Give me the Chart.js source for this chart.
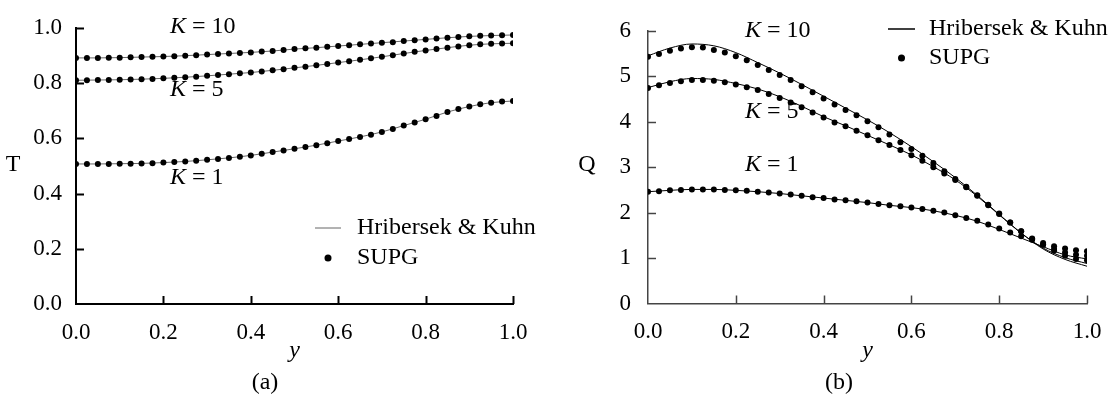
<!DOCTYPE html>
<html>
<head>
<meta charset="utf-8">
<script src="https://cdn.jsdelivr.net/npm/chart.js@4.4.0/dist/chart.umd.min.js"></script>
<style>
  body { margin: 0; background: #fff; }
  #wrap { position: relative; width: 1119px; height: 395px; background: #fff; }
  canvas { position: absolute; top: 0; }
  #chartA { left: 0; }
  #chartB { left: 560px; }
</style>
</head>
<body>
<div id="wrap">
  <canvas id="chartA" width="560" height="395"></canvas>
  <canvas id="chartB" width="559" height="395"></canvas>
</div>
<script>
// positions along y (horizontal axis)
const yDots = [0, 0.025, 0.05, 0.075, 0.1, 0.125, 0.15, 0.175, 0.2, 0.225, 0.25, 0.275, 0.3, 0.325, 0.35, 0.375, 0.4, 0.425, 0.45, 0.475, 0.5,
  0.525, 0.55, 0.575, 0.6, 0.625, 0.65, 0.675, 0.7, 0.725, 0.75, 0.775, 0.8, 0.825, 0.85, 0.875, 0.9, 0.925, 0.95, 0.975, 1.0];
const yLine = [0, 0.05, 0.1, 0.15, 0.2, 0.25, 0.3, 0.35, 0.4, 0.45, 0.5, 0.55, 0.6, 0.65, 0.7, 0.75, 0.8, 0.85, 0.9, 0.95, 1.0];

const xTicks = [0, 0.2, 0.4, 0.6, 0.8, 1.0];
const tTicks = [0, 0.2, 0.4, 0.6, 0.8, 1.0];
const qTicks = [0, 1, 2, 3, 4, 5, 6];
const kLabels = ['10', '5', '1'];

// (a) temperature T, SUPG dots
const tSupgK10 = [.891, .891, .891, .892, .892, .893, .894, .895, .896, .897, .899, .901, .903, .905, .907, .909, .911, .914, .916, .920, .923,
  .926, .928, .931, .934, .937, .940, .943, .946, .948, .952, .955, .958, .961, .964, .967, .969, .971, .972, .973, .974];
const tSupgK5 = [.810, .810, .811, .811, .812, .813, .814, .815, .817, .819, .821, .823, .826, .829, .832, .835, .838, .842, .846, .850, .855,
  .859, .864, .869, .874, .879, .884, .890, .895, .901, .907, .913, .918, .923, .928, .932, .937, .940, .942, .943, .944];
const tSupgK1 = [.507, .507, .507, .507, .508, .508, .509, .510, .512, .514, .516, .519, .522, .525, .529, .533, .538, .544, .550, .556, .562,
  .568, .575, .582, .590, .597, .605, .613, .623, .634, .646, .657, .669, .681, .695, .706, .715, .723, .729, .733, .735];
// (a) Hribersek & Kuhn
const tRefK10 = [.891, .891, .892, .894, .896, .899, .903, .907, .911, .916, .923, .928, .934, .940, .946, .952, .958, .964, .969, .972, .974];
const tRefK5 = [.810, .811, .812, .814, .817, .821, .826, .832, .838, .846, .855, .864, .874, .884, .895, .907, .918, .928, .937, .942, .944];
const tRefK1 = [.507, .507, .508, .509, .512, .516, .522, .529, .538, .550, .562, .575, .590, .605, .623, .646, .669, .695, .715, .729, .735];

// (b) heat flux Q, SUPG dots
const qSupgK10 = [5.43, 5.49, 5.56, 5.61, 5.64, 5.63, 5.58, 5.52, 5.44, 5.35, 5.25, 5.14, 5.03, 4.92, 4.78, 4.65, 4.51, 4.38, 4.26, 4.14, 4.01,
  3.88, 3.72, 3.55, 3.40, 3.25, 3.09, 2.91, 2.74, 2.57, 2.38, 2.17, 1.98, 1.78, 1.59, 1.42, 1.29, 1.16, 1.05, 0.98, 0.95];
const qSupgK5 = [4.74, 4.80, 4.85, 4.89, 4.92, 4.92, 4.90, 4.87, 4.82, 4.76, 4.70, 4.61, 4.52, 4.42, 4.32, 4.20, 4.09, 3.98, 3.90, 3.80, 3.70,
  3.59, 3.49, 3.38, 3.26, 3.14, 3.00, 2.86, 2.72, 2.56, 2.37, 2.16, 1.97, 1.78, 1.59, 1.43, 1.30, 1.20, 1.12, 1.07, 1.05];
const qSupgK1 = [2.46, 2.47, 2.49, 2.50, 2.51, 2.51, 2.51, 2.50, 2.49, 2.48, 2.46, 2.44, 2.42, 2.40, 2.37, 2.34, 2.32, 2.29, 2.27, 2.25, 2.22,
  2.19, 2.16, 2.14, 2.11, 2.08, 2.04, 2.00, 1.94, 1.88, 1.82, 1.74, 1.65, 1.56, 1.48, 1.40, 1.33, 1.26, 1.21, 1.17, 1.15];
// (b) Hribersek & Kuhn
const qRefK10 = [5.45, 5.62, 5.71, 5.67, 5.52, 5.30, 5.07, 4.82, 4.56, 4.30, 4.04, 3.76, 3.45, 3.12, 2.77, 2.38, 1.96, 1.55, 1.20, 0.97, 0.82];
const qRefK5 = [4.75, 4.88, 4.95, 4.93, 4.84, 4.72, 4.55, 4.34, 4.11, 3.91, 3.70, 3.49, 3.27, 3.01, 2.72, 2.36, 1.95, 1.55, 1.22, 1.01, 0.88];
const qRefK1 = [2.46, 2.49, 2.51, 2.51, 2.49, 2.46, 2.42, 2.37, 2.32, 2.27, 2.22, 2.16, 2.11, 2.04, 1.94, 1.81, 1.63, 1.44, 1.25, 1.07, 0.98];

const FONT = "'Liberation Serif', 'Times New Roman', serif";
const TXT = 24;   // labels and legend
const TICK = 23;  // tick labels
const pts = (xs, vs) => vs.map((v, i) => ({ x: xs[i], y: v }));

function lineSet(vals, color) {
  return {
    data: pts(yLine, vals), showLine: true, pointRadius: 0, borderColor: color,
    borderWidth: 1, cubicInterpolationMode: 'monotone', order: 2
  };
}
function dotSet(vals, r) {
  return {
    data: pts(yDots, vals), showLine: false, pointRadius: r, pointHoverRadius: r,
    backgroundColor: '#000', borderWidth: 0, order: 1
  };
}

// inward ticks, labels, legend drawn on top
function decoPlugin(d) {
  return {
    id: 'deco',
    afterDraw(chart) {
      const c = chart.ctx, a = chart.chartArea, xs = chart.scales.x, ys = chart.scales.y;
      c.save();
      c.strokeStyle = d.axisColor;
      c.lineWidth = d.axisWidth;
      xTicks.slice(1).forEach(v => {
        const p = Math.round(xs.getPixelForValue(v)) + 0.5;
        c.beginPath(); c.moveTo(p, a.bottom); c.lineTo(p, a.bottom - 8); c.stroke();
      });
      d.yTicks.slice(1).forEach(v => {
        const p = Math.round(ys.getPixelForValue(v)) + 0.5;
        c.beginPath(); c.moveTo(a.left, p); c.lineTo(a.left + 8, p); c.stroke();
      });
      c.fillStyle = '#000';
      c.textBaseline = 'middle';
      c.textAlign = 'center';
      c.font = TXT + 'px ' + FONT;
      c.fillText(d.yTitle, d.yTitlePos[0], d.yTitlePos[1]);
      c.fillText(d.panel, d.panelPos[0], d.panelPos[1]);
      // K labels
      c.textAlign = 'left';
      kLabels.forEach((k, i) => {
        const [x, y] = d.kPos[i];
        c.font = 'italic ' + TXT + 'px ' + FONT;
        c.fillText('K', x, y);
        const w = c.measureText('K').width;
        c.font = TXT + 'px ' + FONT;
        c.fillText(' = ' + k, x + w, y);
      });
      // legend
      const L = d.legend;
      c.strokeStyle = d.lineColor;
      c.lineWidth = L.lw;
      c.beginPath(); c.moveTo(L.x0, L.y1); c.lineTo(L.x1, L.y1); c.stroke();
      c.beginPath(); c.arc((L.x0 + L.x1) / 2, L.y2, 3.5, 0, Math.PI * 2); c.fill();
      c.font = TXT + 'px ' + FONT;
      c.fillText('Hribersek & Kuhn', L.tx, L.y1);
      c.fillText('SUPG', L.tx, L.y2);
      c.restore();
    }
  };
}

function makeChart(id, o) {
  return new Chart(document.getElementById(id), {
    type: 'scatter',
    data: {
      datasets: [
        lineSet(o.ref[0], o.lineColor), lineSet(o.ref[1], o.lineColor), lineSet(o.ref[2], o.lineColor),
        dotSet(o.supg[0], o.r), dotSet(o.supg[1], o.r), dotSet(o.supg[2], o.r)
      ]
    },
    options: {
      responsive: false,
      animation: false,
      devicePixelRatio: 1,
      layout: { padding: { left: 0, top: 16, right: o.padRight, bottom: 0 } },
      plugins: { legend: { display: false }, tooltip: { enabled: false } },
      scales: {
        x: {
          type: 'linear', min: 0, max: 1,
          afterBuildTicks: s => { s.ticks = xTicks.map(v => ({ value: v })); },
          afterFit: s => { s.height = o.xHeight; },
          ticks: { callback: v => v.toFixed(1), color: '#000', padding: 15, font: { family: FONT, size: TICK } },
          grid: { display: false, drawTicks: false },
          border: { display: true, color: o.axisColor, width: o.axisWidth },
          title: { display: true, text: 'y', color: '#000', padding: { top: 0, bottom: 30 }, font: { family: FONT, size: TXT, style: 'italic' } }
        },
        y: {
          type: 'linear', min: o.yTicks[0], max: o.yTicks[o.yTicks.length - 1],
          afterBuildTicks: s => { s.ticks = o.yTicks.map(v => ({ value: v })); },
          afterFit: s => { s.width = o.yWidth; },
          ticks: { callback: o.yFmt, color: '#000', padding: o.yPad, font: { family: FONT, size: TICK } },
          grid: { display: false, drawTicks: false },
          border: { display: true, color: o.axisColor, width: o.axisWidth }
        }
      }
    },
    plugins: [decoPlugin(o)]
  });
}

makeChart('chartA', {
  ref: [tRefK10, tRefK5, tRefK1], supg: [tSupgK10, tSupgK5, tSupgK1],
  lineColor: '#666', r: 3, axisColor: '#000', axisWidth: 2,
  padRight: 47, xHeight: 91, yWidth: 76, yPad: 14,
  yTicks: tTicks, yFmt: v => v.toFixed(1),
  yTitle: 'T', yTitlePos: [13, 165], panel: '(a)', panelPos: [265, 383],
  kPos: [[170, 27], [170, 90], [170, 178]],
  legend: { x0: 315, x1: 341, y1: 228, y2: 258, tx: 357, lw: 1 }
});

makeChart('chartB', {
  ref: [qRefK10, qRefK5, qRefK1], supg: [qSupgK10, qSupgK5, qSupgK1],
  lineColor: '#000', r: 3, axisColor: '#444', axisWidth: 1.5,
  padRight: 32, xHeight: 91.5, yWidth: 88, yPad: 17,
  yTicks: qTicks, yFmt: v => String(v),
  yTitle: 'Q', yTitlePos: [27, 165], panel: '(b)', panelPos: [279, 383],
  kPos: [[185, 31], [185, 112], [185, 165]],
  legend: { x0: 328, x1: 355, y1: 29, y2: 58, tx: 369, lw: 1.5 }
});
</script>
</body>
</html>
